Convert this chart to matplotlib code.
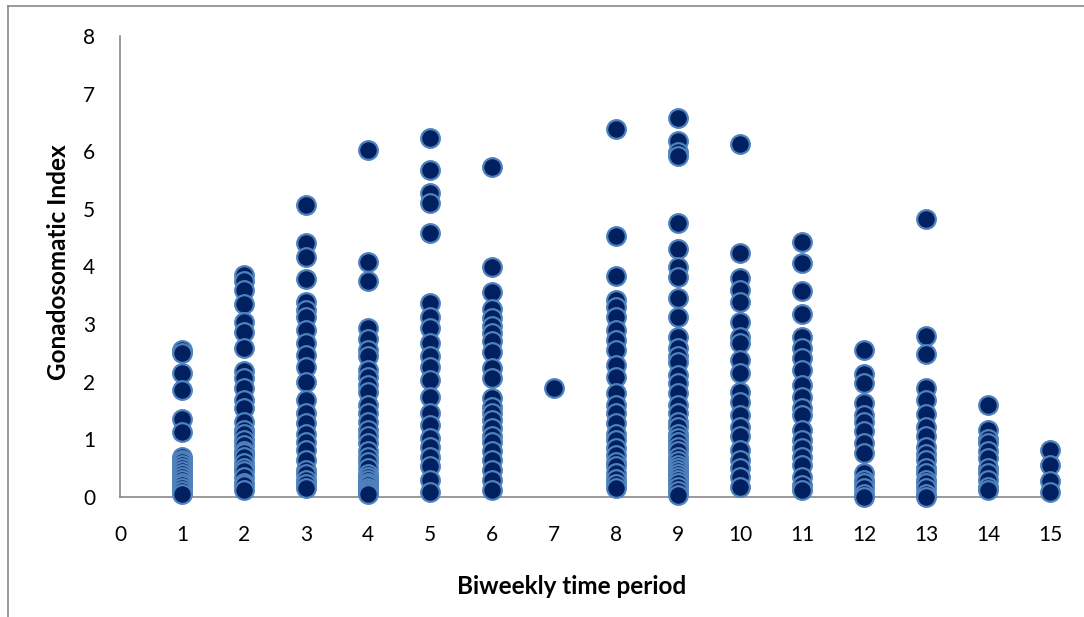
import matplotlib.pyplot as plt
from matplotlib.lines import Line2D

# GSI readings per biweekly period
p1 = [2.55, 2.5, 2.15, 1.85, 1.35, 1.13, 0.7, 0.65, 0.6, 0.55, 0.5, 0.45, 0.4, 0.35, 0.3, 0.25, 0.2, 0.15, 0.1, 0.05]
p2 = [3.85, 3.74, 3.6, 3.35, 3.04, 2.86, 2.59, 2.18, 2.06, 1.9, 1.68, 1.54, 1.31, 1.16, 1.1, 0.99, 0.9, 0.8,
      0.76, 0.7, 0.59, 0.5, 0.45, 0.35, 0.25, 0.2, 0.12]
p3 = [5.07, 4.4, 4.17, 3.78, 3.39, 3.25, 3.12, 2.9, 2.67, 2.47, 2.26, 2.0, 1.68, 1.45, 1.28, 1.1, 0.95, 0.82,
      0.64, 0.47, 0.4, 0.3, 0.22, 0.15]
p4 = [6.02, 4.08, 3.74, 2.93, 2.75, 2.55, 2.44, 2.2, 2.09, 1.95, 1.83, 1.6, 1.45, 1.3, 1.16, 1.05, 0.93, 0.8,
      0.7, 0.6, 0.5, 0.4, 0.35, 0.3, 0.25, 0.2, 0.15, 0.12, 0.08, 0.05]
p5 = [6.23, 5.67, 5.27, 5.1, 4.59, 3.36, 3.13, 2.93, 2.67, 2.44, 2.26, 2.03, 1.74, 1.45, 1.25, 1.02, 0.87,
      0.7, 0.53, 0.3, 0.09]
p6 = [5.73, 3.99, 3.55, 3.26, 3.1, 2.96, 2.85, 2.7, 2.52, 2.23, 2.06, 1.71, 1.57, 1.45, 1.34, 1.19, 1.05,
      0.96, 0.79, 0.65, 0.47, 0.3, 0.12]
p7 = [1.9]
p8 = [6.38, 4.53, 3.84, 3.42, 3.3, 3.13, 2.9, 2.73, 2.55, 2.29, 2.09, 1.8, 1.6, 1.45, 1.28, 1.1, 0.99, 0.85,
      0.73, 0.6, 0.53, 0.42, 0.32, 0.22, 0.15]
p9 = [6.57, 6.18, 5.99, 5.91, 4.75, 4.31, 4.0, 3.81, 3.45, 3.12, 2.78, 2.58, 2.44, 2.35, 2.12, 1.97, 1.8,
      1.6, 1.45, 1.3, 1.22, 1.1, 1.02, 0.95, 0.87, 0.8, 0.7, 0.62, 0.55, 0.5, 0.45, 0.4, 0.35, 0.3, 0.25,
      0.18, 0.1, 0.03]
p10 = [6.13, 4.23, 3.8, 3.59, 3.39, 3.04, 2.78, 2.67, 2.38, 2.15, 1.83, 1.65, 1.42, 1.22, 1.05, 0.82, 0.64,
       0.5, 0.35, 0.18]
p11 = [4.42, 4.06, 3.58, 3.17, 2.78, 2.58, 2.41, 2.2, 1.94, 1.74, 1.55, 1.42, 1.16, 0.99, 0.85, 0.7, 0.55,
       0.35, 0.2, 0.12]
p12 = [2.55, 2.14, 1.98, 1.63, 1.42, 1.31, 1.15, 0.93, 0.76, 0.41, 0.3, 0.24, 0.15, 0.06, 0.0]
p13 = [4.82, 2.8, 2.48, 1.9, 1.68, 1.44, 1.22, 1.05, 0.87, 0.75, 0.64, 0.5, 0.41, 0.3, 0.24, 0.15, 0.06, 0.0]
p14 = [1.6, 1.17, 1.0, 0.93, 0.8, 0.67, 0.5, 0.41, 0.3, 0.18, 0.12]
p15 = [0.82, 0.56, 0.27, 0.09]

periods = [p1, p2, p3, p4, p5, p6, p7, p8, p9, p10, p11, p12, p13, p14, p15]
x_ticks = list(range(0, 16))
y_ticks = list(range(0, 9))

xs, ys = [], []
for i, vals in enumerate(periods, start=1):
    xs += [i] * len(vals)
    ys += vals

plt.rcParams['font.family'] = ['Lato', 'DejaVu Sans']

fig = plt.figure(figsize=(10.84, 6.17), dpi=100)
ax = fig.add_axes([120 / 1084, 1 - 497 / 617, 930 / 1084, 461 / 617])

ax.scatter(xs, ys, s=180, c='#002060', edgecolors='#4f81bd', linewidths=1.6, clip_on=False, zorder=3)

ax.set_xlim(0, 15)
ax.set_ylim(0, 8)
ax.set_xticks(x_ticks)
ax.set_yticks(y_ticks)
ax.tick_params(length=0, labelsize=15)
ax.tick_params(axis='y', pad=18)
ax.tick_params(axis='x', pad=20)

for side in ['top', 'right']:
    ax.spines[side].set_visible(False)
for side in ['left', 'bottom']:
    ax.spines[side].set_color('#898989')
    ax.spines[side].set_linewidth(1.2)

fig.text(572 / 1084, 1 - 587 / 617, 'Biweekly time period', fontsize=17.5, fontweight='bold',
         ha='center', va='center')
fig.text(58 / 1084, 1 - 262 / 617, 'Gonadosomatic Index', fontsize=17.5, fontweight='bold',
         ha='center', va='center', rotation=90)

# outer chart border (top and left visible in the crop)
fig.add_artist(Line2D([8 / 1084, 8 / 1084], [0, 1 - 6 / 617], transform=fig.transFigure,
                      color='#898989', lw=1.2))
fig.add_artist(Line2D([8 / 1084, 1], [1 - 6 / 617, 1 - 6 / 617], transform=fig.transFigure,
                      color='#898989', lw=1.2))

fig.savefig('out.png', dpi=100)
